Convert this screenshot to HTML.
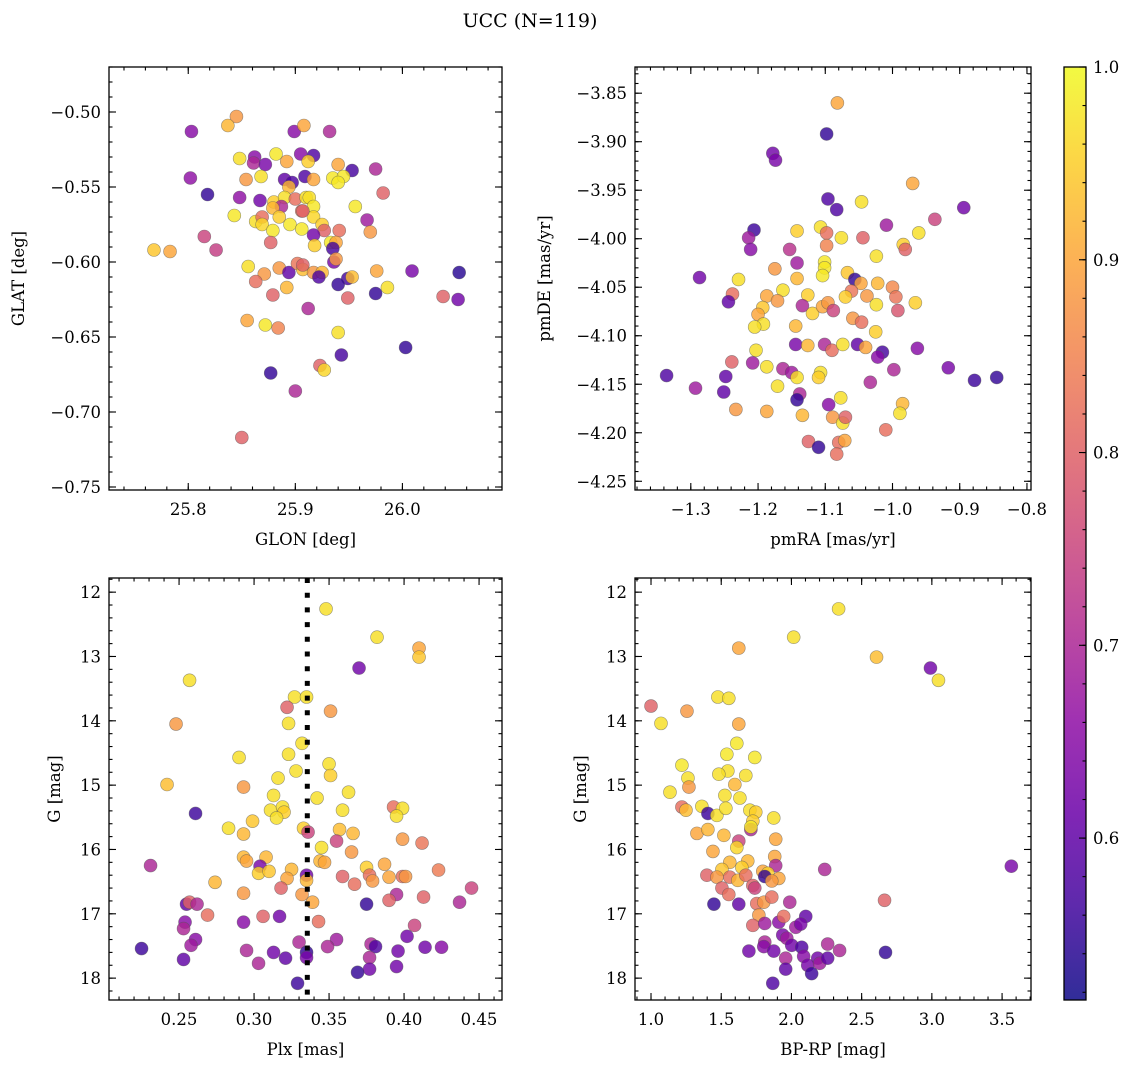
<!DOCTYPE html>
<html><head><meta charset="utf-8">
<style>
html,body{margin:0;padding:0;background:#fff;}
svg{display:block;font-family:"DejaVu Serif","Liberation Serif",serif;}
</style></head>
<body>
<svg id="fig" width="1136" height="1067" viewBox="0 0 1136 1067" xmlns="http://www.w3.org/2000/svg">
<text x="530" y="27" font-size="19" text-anchor="middle">UCC (N=119)</text>
</svg>
<script>
// ---------- Panel 1: GLON / GLAT ----------
const glon = [25.845,25.837,25.803,25.899,25.908,25.848,25.862,25.861,25.872,25.882,25.892,25.905,25.802,25.854,25.868,25.890,25.897,25.909,25.894,25.818,25.848,25.867,25.880,25.890,25.900,25.910,25.887,25.879,25.885,25.906,25.843,25.863,25.869,25.869,25.895,25.906,25.879,25.877,25.815,25.826,25.768,25.783,25.856,25.885,25.871,25.863,25.894,25.902,25.907,25.892,25.879,25.912,25.855,25.872,25.884,25.877,25.900,25.850,25.932,25.917,25.912,25.940,25.953,25.975,25.917,25.935,25.945,25.940,25.982,25.913,25.956,25.917,25.917,25.967,25.907,25.925,25.927,25.941,25.970,25.917,25.918,25.933,25.938,25.935,25.936,25.938,25.907,25.917,25.925,25.922,25.949,25.953,25.940,25.976,26.009,26.053,25.949,25.975,25.986,26.038,26.052,25.940,25.943,26.003,25.923,25.927];
const glat = [-0.503,-0.509,-0.513,-0.513,-0.509,-0.531,-0.530,-0.534,-0.535,-0.528,-0.533,-0.528,-0.544,-0.545,-0.543,-0.545,-0.547,-0.543,-0.550,-0.555,-0.557,-0.559,-0.560,-0.557,-0.558,-0.557,-0.563,-0.564,-0.570,-0.566,-0.569,-0.573,-0.570,-0.575,-0.575,-0.578,-0.579,-0.587,-0.583,-0.592,-0.592,-0.593,-0.603,-0.604,-0.608,-0.613,-0.607,-0.601,-0.605,-0.617,-0.622,-0.631,-0.639,-0.642,-0.644,-0.674,-0.686,-0.717,-0.513,-0.529,-0.533,-0.535,-0.539,-0.538,-0.545,-0.544,-0.543,-0.547,-0.554,-0.557,-0.563,-0.563,-0.570,-0.572,-0.566,-0.575,-0.579,-0.579,-0.580,-0.582,-0.589,-0.587,-0.587,-0.591,-0.600,-0.598,-0.602,-0.607,-0.607,-0.610,-0.611,-0.610,-0.615,-0.606,-0.606,-0.607,-0.624,-0.621,-0.617,-0.623,-0.625,-0.647,-0.662,-0.657,-0.669,-0.672];
const prob1 = [.88,.92,.65,.65,.90,.97,.65,.70,.63,.98,.90,.65,.66,.88,.97,.60,.58,.58,.92,.55,.66,.62,.95,.97,.82,.97,.70,.92,.95,.83,.98,.97,.82,.96,.98,.98,.98,.80,.75,.74,.94,.90,.97,.88,.88,.82,.60,.83,.93,.92,.80,.70,.90,.98,.85,.55,.70,.80,.70,.58,.95,.90,.57,.70,.90,.98,.98,.98,.80,.97,.98,.98,.96,.68,.80,.95,.80,.82,.88,.62,.95,.98,.90,.57,.63,.88,.80,.88,.92,.58,.57,.93,.55,.90,.63,.54,.80,.55,.97,.80,.62,.97,.57,.55,.80,.96];
const p1xTicks = [25.8,25.9,26.0];
const p1yTicks = [-0.50,-0.55,-0.60,-0.65,-0.70,-0.75];

// ---------- Panel 2: pmRA / pmDE ----------
const pmra = [-1.082,-1.098,-1.178,-1.174,-1.096,-1.083,-1.206,-1.214,-1.211,-1.142,-1.107,-1.098,-1.076,-1.098,-1.153,-1.142,-1.175,-1.101,-1.101,-1.104,-1.287,-1.229,-1.142,-1.238,-1.244,-1.163,-1.187,-1.171,-1.126,-1.134,-1.119,-1.104,-1.096,-1.088,-1.193,-1.200,-1.192,-1.205,-1.144,-1.144,-1.126,-1.101,-1.090,-1.074,-1.203,-1.239,-1.208,-1.187,-1.163,-1.150,-1.142,-1.107,-1.110,-1.336,-1.248,-1.293,-1.251,-1.171,-1.138,-1.142,-1.095,-1.077,-1.233,-1.187,-1.134,-1.089,-1.074,-1.125,-1.110,-1.080,-1.083,-0.970,-1.046,-0.894,-0.937,-1.009,-1.044,-0.961,-0.984,-0.981,-1.024,-1.067,-1.056,-1.047,-1.022,-1.000,-1.061,-1.070,-1.038,-1.024,-0.995,-0.992,-0.966,-1.059,-1.046,-1.025,-1.052,-1.040,-1.015,-1.022,-0.963,-0.998,-0.917,-0.878,-0.845,-1.033,-0.985,-0.989,-1.070,-1.010,-1.071];
const pmde = [-3.860,-3.892,-3.912,-3.919,-3.959,-3.970,-3.991,-3.999,-4.011,-3.992,-3.988,-3.994,-3.999,-4.007,-4.011,-4.025,-4.031,-4.024,-4.030,-4.038,-4.040,-4.042,-4.041,-4.057,-4.065,-4.053,-4.059,-4.064,-4.058,-4.069,-4.077,-4.070,-4.066,-4.074,-4.071,-4.078,-4.088,-4.091,-4.090,-4.109,-4.110,-4.109,-4.115,-4.109,-4.115,-4.127,-4.128,-4.132,-4.134,-4.138,-4.143,-4.138,-4.143,-4.141,-4.142,-4.154,-4.158,-4.152,-4.160,-4.166,-4.171,-4.164,-4.176,-4.178,-4.182,-4.184,-4.190,-4.209,-4.215,-4.210,-4.222,-3.943,-3.962,-3.968,-3.980,-3.986,-3.999,-3.994,-4.006,-4.011,-4.018,-4.035,-4.042,-4.046,-4.046,-4.050,-4.054,-4.060,-4.059,-4.068,-4.060,-4.074,-4.066,-4.082,-4.086,-4.096,-4.109,-4.112,-4.117,-4.122,-4.113,-4.135,-4.133,-4.146,-4.143,-4.148,-4.170,-4.180,-4.184,-4.197,-4.208];
const prob2 = [.90,.55,.62,.63,.58,.58,.56,.68,.65,.95,.97,.82,.97,.85,.72,.68,.88,.98,.98,.98,.62,.97,.92,.82,.60,.97,.90,.88,.95,.70,.95,.90,.88,.75,.94,.90,.97,.97,.92,.63,.92,.70,.82,.97,.97,.80,.68,.97,.70,.68,.97,.97,.95,.58,.60,.68,.60,.97,.70,.55,.65,.97,.88,.90,.92,.88,.97,.80,.55,.82,.82,.90,.97,.62,.75,.68,.80,.97,.95,.80,.97,.94,.55,.90,.92,.86,.83,.95,.88,.97,.83,.78,.95,.88,.82,.95,.60,.90,.57,.65,.65,.70,.63,.56,.55,.70,.92,.97,.80,.82,.90];
const p2xTicks = [-1.3,-1.2,-1.1,-1.0,-0.9,-0.8];
const p2yTicks = [-3.85,-3.90,-3.95,-4.00,-4.05,-4.10,-4.15,-4.20,-4.25];

// ---------- Panel 3: Plx / G ----------
const plx = [0.257,0.248,0.327,0.322,0.335,0.323,0.332,0.290,0.323,0.328,0.242,0.293,0.316,0.313,0.311,0.319,0.320,0.315,0.261,0.283,0.299,0.293,0.333,0.231,0.293,0.295,0.308,0.304,0.303,0.310,0.325,0.322,0.274,0.318,0.293,0.332,0.255,0.257,0.262,0.269,0.293,0.306,0.317,0.254,0.253,0.261,0.258,0.225,0.253,0.295,0.313,0.321,0.303,0.330,0.335,0.329,0.335,0.348,0.382,0.410,0.410,0.370,0.351,0.350,0.351,0.363,0.342,0.359,0.393,0.399,0.395,0.336,0.357,0.366,0.355,0.399,0.412,0.345,0.365,0.344,0.347,0.375,0.387,0.423,0.359,0.377,0.379,0.390,0.399,0.401,0.367,0.335,0.445,0.395,0.390,0.413,0.437,0.339,0.375,0.343,0.407,0.402,0.355,0.349,0.378,0.381,0.396,0.414,0.425,0.377,0.335,0.377,0.395,0.369];
const gmag3 = [13.37,14.05,13.63,13.79,13.63,14.04,14.35,14.57,14.52,14.78,14.99,15.03,14.89,15.16,15.39,15.34,15.42,15.51,15.44,15.67,15.56,15.76,15.67,16.25,16.12,16.18,16.12,16.26,16.37,16.34,16.31,16.45,16.51,16.60,16.68,16.70,16.85,16.82,16.85,17.02,17.13,17.04,17.04,17.13,17.23,17.40,17.49,17.54,17.71,17.57,17.60,17.69,17.77,17.44,17.60,18.08,16.40,12.26,12.70,12.87,13.01,13.18,13.85,14.67,14.85,15.11,15.20,15.39,15.34,15.36,15.48,15.73,15.69,15.75,15.87,15.84,15.90,15.97,16.04,16.18,16.20,16.28,16.23,16.32,16.42,16.40,16.49,16.43,16.42,16.42,16.54,16.48,16.60,16.70,16.79,16.74,16.82,16.82,16.85,17.12,17.18,17.35,17.40,17.51,17.47,17.51,17.58,17.52,17.52,17.68,17.68,17.86,17.82,17.91];
const prob3 = [.97,.88,.97,.80,.97,.97,.97,.97,.97,.97,.93,.88,.97,.97,.97,.97,.95,.97,.56,.97,.94,.92,.95,.70,.92,.90,.92,.63,.95,.94,.92,.90,.92,.80,.88,.88,.60,.80,.70,.82,.65,.80,.62,.65,.70,.65,.68,.56,.60,.70,.62,.60,.70,.70,.55,.56,.62,.97,.97,.90,.94,.62,.88,.97,.95,.97,.97,.97,.82,.97,.97,.75,.93,.92,.75,.88,.83,.97,.88,.92,.90,.95,.90,.84,.80,.82,.88,.90,.82,.88,.82,.92,.75,.70,.80,.80,.70,.90,.55,.82,.75,.62,.68,.70,.70,.58,.62,.62,.65,.70,.63,.62,.62,.55];
const plxLine = [0.3355];
const p3xTicks = [0.25,0.30,0.35,0.40,0.45];
const gTicks = [12,13,14,15,16,17,18];

// ---------- Panel 4: BP-RP / G ----------
const bprp = [2.016,1.625,1.476,1.554,1.000,1.256,1.071,1.625,1.611,1.540,1.739,1.220,1.547,1.483,1.675,1.263,1.270,1.597,1.135,1.526,1.633,1.220,1.249,1.362,1.405,1.469,1.533,1.704,1.746,1.725,1.711,1.711,1.874,1.327,1.405,1.519,1.888,1.625,1.611,1.441,1.561,1.689,1.647,1.881,1.888,1.505,1.398,1.469,1.561,1.618,1.675,1.796,1.832,1.810,1.910,1.860,1.725,1.739,1.505,1.554,1.448,1.625,1.753,1.803,1.860,1.988,1.768,1.725,1.810,1.910,1.945,2.102,2.031,2.066,2.237,1.810,1.803,1.938,1.967,2.002,2.073,1.697,1.874,1.959,2.087,2.187,2.258,2.116,2.201,1.959,2.144,1.867,2.336,2.606,2.990,3.047,3.566,2.663,2.343,2.258,2.670];
const gmag4 = [12.70,12.87,13.63,13.65,13.77,13.85,14.04,14.05,14.35,14.52,14.57,14.69,14.78,14.83,14.85,14.89,15.03,14.99,15.11,15.16,15.20,15.34,15.39,15.33,15.44,15.47,15.36,15.39,15.42,15.56,15.69,15.65,15.51,15.75,15.69,15.78,15.84,15.87,15.97,16.03,16.20,16.18,16.28,16.11,16.25,16.31,16.40,16.43,16.43,16.48,16.40,16.34,16.37,16.42,16.45,16.49,16.56,16.60,16.60,16.70,16.85,16.85,16.84,16.82,16.74,16.82,17.02,17.18,17.15,17.13,17.04,17.04,17.21,17.16,16.31,17.44,17.51,17.33,17.38,17.49,17.52,17.58,17.58,17.69,17.66,17.69,17.47,17.80,17.77,17.86,17.93,18.08,12.26,13.01,13.18,13.37,16.26,16.79,17.57,17.69,17.60];
const prob4 = [.97,.90,.97,.97,.80,.88,.97,.90,.98,.98,.98,.98,.97,.97,.97,.97,.88,.92,.97,.97,.97,.82,.93,.97,.56,.97,.97,.97,.95,.95,.70,.98,.97,.90,.92,.92,.90,.75,.96,.90,.92,.92,.95,.90,.70,.94,.80,.88,.82,.92,.82,.90,.95,.55,.90,.88,.80,.75,.80,.82,.55,.60,.82,.88,.82,.70,.88,.80,.68,.65,.82,.60,.68,.63,.70,.70,.65,.63,.68,.62,.58,.62,.62,.70,.65,.62,.70,.63,.68,.60,.56,.58,.97,.93,.62,.97,.63,.80,.70,.60,.55];
const p4xTicks = [1.0,1.5,2.0,2.5,3.0,3.5];

// ---------- Colorbar ----------
const cbTicks = [0.6,0.7,0.8,0.9,1.0];
const cbRange = [0.516,1.0];

const NS = "http://www.w3.org/2000/svg";
const svg = document.getElementById('fig');
function el(tag, attrs, parent){
  const e = document.createElementNS(NS, tag);
  for (const k in attrs) e.setAttribute(k, attrs[k]);
  (parent||svg).appendChild(e);
  return e;
}
const plasma = [[13,8,135],[65,4,157],[106,0,168],[143,13,164],[177,42,144],[204,71,120],[225,100,98],[242,132,75],[252,166,54],[252,206,37],[240,249,33]];
function cmap(v){
  let t = (v - cbRange[0])/(cbRange[1]-cbRange[0]);
  t = Math.max(0, Math.min(1, t));
  const f = t*10, i = Math.min(9, Math.floor(f)), r = f - i;
  const a = plasma[i], b = plasma[i+1];
  return 'rgb(' + [0,1,2].map(k => Math.round(a[k] + (b[k]-a[k])*r)).join(',') + ')';
}
function fmt(v, d){ const s = v.toFixed(d); return s.replace('-', '\u2212'); }
function minors(lo, hi, step){ const out=[]; const s=Math.ceil(lo/step-1e-6); for(let k=s;k*step<=hi+1e-9;k++) out.push(+(k*step).toFixed(6)); return out; }

function panel(opt){
  const {x0,y0,w,h,xr,yr,xTicks,yTicks,xMinor,yMinor,xd,yd,xlabel,ylabel,name,ylabelX} = opt;
  const sx = v => x0 + (v - xr[0])/(xr[1]-xr[0])*w;
  const sy = v => y0 + (v - yr[0])/(yr[1]-yr[0])*h;
  const g = el('g', {});
  
  
  const clipId = name + '-clip';
  const cp = el('clipPath', {id: clipId}, g);
  el('rect', {x:x0, y:y0, width:w, height:h}, cp);
  const pts = el('g', {'clip-path':'url(#'+clipId+')'}, g);
  
  
  if (opt.vline){
    const ln = el('line', {x1:sx(opt.vline[0]), x2:sx(opt.vline[0]), y1:y0, y2:y0+h, stroke:'#000', 'stroke-width':5, 'stroke-dasharray':'5 9.7'}, g);
    
    
  }
  for (let i=0;i<opt.xs.length;i++){
    const c = el('circle', {cx:sx(opt.xs[i]), cy:sy(opt.ys[i]), r:6.5, fill:cmap(opt.cs[i]), 'fill-opacity':0.82, stroke:'#555', 'stroke-opacity':0.6, 'stroke-width':0.6}, pts);
    
    
  }
  if (opt.vline) pts.parentNode.appendChild(g.querySelector('line'));
  const frame = el('rect', {x:x0, y:y0, width:w, height:h, fill:'none', stroke:'#000', 'stroke-width':1.3}, g);
  
  
  const tg = el('g', {stroke:'#000', 'stroke-width':1.1}, g);
  xMinor.forEach(v => { const X=sx(v); if(X<x0||X>x0+w) return; el('line',{x1:X,x2:X,y1:y0+h,y2:y0+h-3.5},tg); el('line',{x1:X,x2:X,y1:y0,y2:y0+3.5},tg); });
  yMinor.forEach(v => { const Y=sy(v); if(Y<y0||Y>y0+h) return; el('line',{x1:x0,x2:x0+3.5,y1:Y,y2:Y},tg); el('line',{x1:x0+w,x2:x0+w-3.5,y1:Y,y2:Y},tg); });
  xTicks.forEach(v => {
    const X=sx(v);
    el('line',{x1:X,x2:X,y1:y0+h,y2:y0+h-7},tg); el('line',{x1:X,x2:X,y1:y0,y2:y0+7},tg);
    const t = el('text',{x:X, y:y0+h+25, 'font-size':16.5, 'text-anchor':'middle'}, g);
    t.textContent = fmt(v, xd);
    
    
  });
  yTicks.forEach(v => {
    const Y=sy(v);
    el('line',{x1:x0,x2:x0+7,y1:Y,y2:Y},tg); el('line',{x1:x0+w,x2:x0+w-7,y1:Y,y2:Y},tg);
    const t = el('text',{x:x0-8, y:Y+6, 'font-size':16.5, 'text-anchor':'end'}, g);
    t.textContent = fmt(v, yd);
    
    
  });
  const xl = el('text',{x:x0+w/2, y:y0+h+55, 'font-size':16.5, 'text-anchor':'middle'}, g);
  xl.textContent = xlabel;
  
  
  const yl = el('text',{x:ylabelX, y:y0+h/2, 'font-size':16.5, 'text-anchor':'middle', transform:'rotate(-90 '+ylabelX+' '+(y0+h/2)+')'}, g);
  yl.textContent = ylabel;
  
  
}

panel({name:'glon-glat-panel', x0:109,y0:67,w:393,h:423, xr:[25.726,26.093], yr:[-0.470,-0.752],
  xTicks:p1xTicks, yTicks:p1yTicks, xMinor:minors(25.72,26.1,0.02), yMinor:minors(-0.76,-0.46,0.01), xd:1, yd:2,
  xs:glon, ys:glat, cs:prob1, xlabel:'GLON [deg]', ylabel:'GLAT [deg]', ylabelX:24});
panel({name:'proper-motion-panel', x0:635,y0:67,w:396,h:423, xr:[-1.383,-0.794], yr:[-3.823,-4.259],
  xTicks:p2xTicks, yTicks:p2yTicks, xMinor:minors(-1.4,-0.78,0.02), yMinor:minors(-4.27,-3.82,0.01), xd:1, yd:2,
  xs:pmra, ys:pmde, cs:prob2, xlabel:'pmRA [mas/yr]', ylabel:'pmDE [mas/yr]', ylabelX:550});
panel({name:'parallax-magnitude-panel', x0:109,y0:578,w:393,h:422, xr:[0.2033,0.4653], yr:[11.78,18.34],
  xTicks:p3xTicks, yTicks:gTicks, xMinor:minors(0.2,0.47,0.01), yMinor:minors(11.6,18.4,0.2), xd:2, yd:0,
  xs:plx, ys:gmag3, cs:prob3, vline:plxLine, xlabel:'Plx [mas]', ylabel:'G [mag]', ylabelX:60});
panel({name:'color-magnitude-panel', x0:635,y0:578,w:396,h:422, xr:[0.886,3.706], yr:[11.78,18.34],
  xTicks:p4xTicks, yTicks:gTicks, xMinor:minors(0.8,3.8,0.1), yMinor:minors(11.6,18.4,0.2), xd:1, yd:0,
  xs:bprp, ys:gmag4, cs:prob4, xlabel:'BP-RP [mag]', ylabel:'G [mag]', ylabelX:586});

// colorbar
(function(){
  const cx=1064, cy=67, cw=22, ch=933;
  const g = el('g', {});
  
  
  const defs = el('defs', {}, g);
  const lg = el('linearGradient', {id:'cbgrad', x1:0, y1:1, x2:0, y2:0}, defs);
  for (let i=0;i<=20;i++){ const v = cbRange[0] + (cbRange[1]-cbRange[0])*i/20; el('stop',{offset:(i/20), 'stop-color':cmap(v), 'stop-opacity':0.85}, lg); }
  el('rect', {x:cx, y:cy, width:cw, height:ch, fill:'url(#cbgrad)', stroke:'#000', 'stroke-width':1.3}, g);
  const sy = v => cy + ch - (v-cbRange[0])/(cbRange[1]-cbRange[0])*ch;
  minors(0.52,1.0,0.02).forEach(v => { el('line',{x1:cx+cw,x2:cx+cw-3.5,y1:sy(v),y2:sy(v),stroke:'#000','stroke-width':1.1},g); });
  cbTicks.forEach(v => {
    el('line',{x1:cx+cw,x2:cx+cw-7,y1:sy(v),y2:sy(v),stroke:'#000','stroke-width':1.1},g);
    const t = el('text',{x:cx+cw+7, y:sy(v)+6, 'font-size':16.5}, g);
    t.textContent = v.toFixed(1);
    
    
  });
})();
</script>
</body></html>
